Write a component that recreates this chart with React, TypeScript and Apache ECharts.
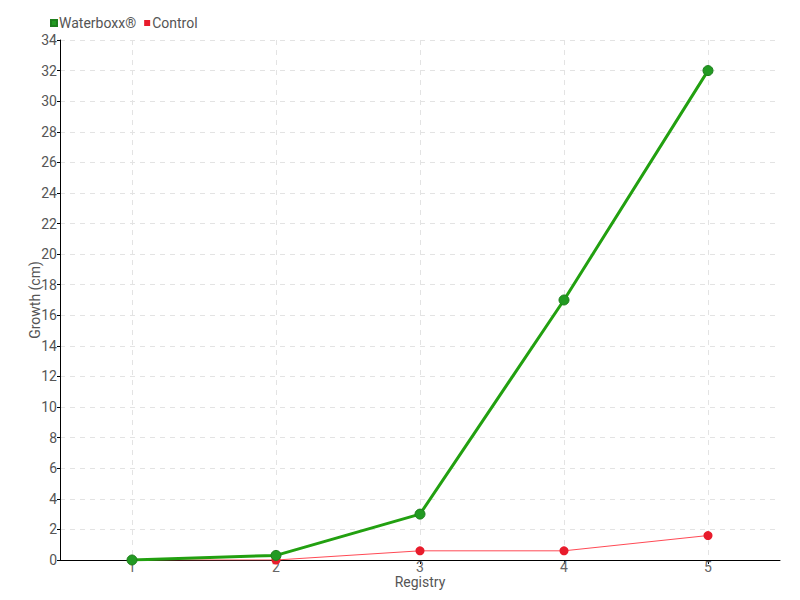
import React, { useEffect, useRef } from "react";
import * as echarts from "echarts";

const categories = ["1", "2", "3", "4", "5"];
const waterboxx = [0, 0.3, 3, 17, 32];
const control = [0, 0, 0.6, 0.6, 1.6];
const seriesNames = ["Waterboxx®", "Control"];

const FONT = "Roboto, 'Noto Sans', sans-serif";

export default function App() {
  const ref = useRef<HTMLDivElement>(null);
  useEffect(() => {
    const chart = echarts.init(ref.current!, null, { renderer: "svg" });
    chart.setOption({
      animation: false,
      textStyle: { fontFamily: FONT },
      legend: {
        left: 45,
        top: 11,
        itemWidth: 6,
        itemHeight: 6,
        itemGap: 8,
        icon: "rect",
        textStyle: { color: "#555", fontSize: 14, fontFamily: FONT, padding: [0, 0, 0, -3] },
        data: seriesNames,
      },
      grid: { left: 60, right: 20, top: 40, bottom: 40, containLabel: false },
      xAxis: {
        type: "category",
        data: categories,
        boundaryGap: true,
        name: "Registry",
        nameLocation: "middle",
        nameGap: 15,
        nameMoveOverlap: false,
        nameTextStyle: { color: "#555", fontSize: 14, lineHeight: 14, fontFamily: FONT },
        axisLine: { lineStyle: { color: "#000", width: 1 } },
        axisTick: { show: true, alignWithLabel: true, length: 4, lineStyle: { color: "#000" } },
        axisLabel: { color: "#666", fontSize: 14, lineHeight: 12, fontFamily: FONT, margin: 1 },
        splitLine: { show: true, alignWithLabel: true, lineStyle: { color: "#e3e3e3", type: [5, 5] } },
      },
      yAxis: {
        type: "value",
        min: 0,
        max: 34,
        interval: 2,
        name: "Growth (cm)",
        nameLocation: "middle",
        nameGap: 18,
        nameMoveOverlap: false,
        nameTextStyle: { color: "#555", fontSize: 14, fontFamily: FONT },
        axisLine: { show: true, lineStyle: { color: "#000", width: 1 } },
        axisTick: { show: true, length: 3, lineStyle: { color: "#000" } },
        axisLabel: { color: "#555", fontSize: 14, fontFamily: FONT, margin: 3 },
        splitLine: { show: true, lineStyle: { color: "#e3e3e3", type: [5, 5] } },
      },
      series: [
        {
          name: seriesNames[0],
          type: "line",
          data: waterboxx,
          color: "#22a010",
          lineStyle: { color: "#22a010", width: 3 },
          symbol: "circle",
          symbolSize: 10,
          itemStyle: { color: "#229a22", borderColor: "#1d7f1d", borderWidth: 1 },
          z: 3,
        },
        {
          name: seriesNames[1],
          type: "line",
          data: control,
          color: "#ee1c2a",
          lineStyle: { color: "#ff4a55", width: 1 },
          symbol: "circle",
          symbolSize: 9,
          itemStyle: { color: "#e81c2c" },
          z: 2,
        },
      ],
    });
    return () => chart.dispose();
  }, []);
  return <div ref={ref} style={{ width: 800, height: 600, position: "absolute", left: 0, top: 0 }} />;
}
